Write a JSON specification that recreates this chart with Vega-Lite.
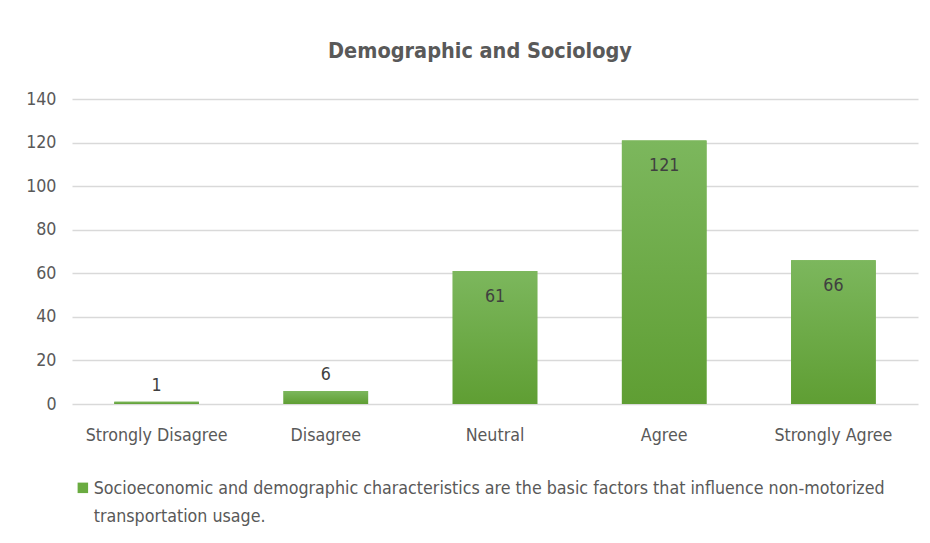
{
  "$schema": "https://vega.github.io/schema/vega-lite/v6.json",
  "width": 846,
  "height": 305,
  "autosize": {"type": "none"},
  "padding": {"left": 72, "top": 99, "right": 12, "bottom": 139},
  "background": "white",
  "title": {
    "text": "Demographic and Sociology",
    "fontSize": 21.5,
    "fontWeight": "bold",
    "color": "#595959",
    "font": "Liberation Sans Narrow, DejaVu Sans Condensed, sans-serif",
    "anchor": "middle",
    "offset": 28,
    "dx": -15
  },
  "data": {
    "values": [
      {"response": "Strongly Disagree", "count": 1, "series": "Socioeconomic and demographic characteristics are the basic factors that influence non-motorized transportation usage."},
      {"response": "Disagree", "count": 6, "series": "Socioeconomic and demographic characteristics are the basic factors that influence non-motorized transportation usage."},
      {"response": "Neutral", "count": 61, "series": "Socioeconomic and demographic characteristics are the basic factors that influence non-motorized transportation usage."},
      {"response": "Agree", "count": 121, "series": "Socioeconomic and demographic characteristics are the basic factors that influence non-motorized transportation usage."},
      {"response": "Strongly Agree", "count": 66, "series": "Socioeconomic and demographic characteristics are the basic factors that influence non-motorized transportation usage."}
    ]
  },
  "encoding": {
    "x": {
      "field": "response",
      "type": "nominal",
      "sort": null,
      "scale": {"paddingInner": 0.5, "paddingOuter": 0.25},
      "axis": {
        "title": null,
        "labelAngle": 0,
        "domain": false,
        "ticks": false,
        "labelPadding": 22,
        "labelFontSize": 17.7,
        "labelColor": "#595959",
        "labelFont": "Liberation Sans Narrow, DejaVu Sans Condensed, sans-serif",
        "labelLimit": 300
      }
    },
    "y": {
      "field": "count",
      "type": "quantitative",
      "scale": {"domain": [0, 140]},
      "axis": {
        "title": null,
        "values": [0, 20, 40, 60, 80, 100, 120, 140],
        "domain": false,
        "ticks": false,
        "labelPadding": 16,
        "labelFontSize": 17.7,
        "labelColor": "#595959",
        "labelFont": "Liberation Sans Narrow, DejaVu Sans Condensed, sans-serif",
        "gridColor": "#d9d9d9",
        "gridWidth": 1.5
      }
    }
  },
  "layer": [
    {
      "mark": {"type": "bar"},
      "encoding": {
        "color": {
          "field": "series",
          "type": "nominal",
          "scale": {"range": ["#6aab40"]},
          "legend": {
            "title": null,
            "orient": "none",
            "legendX": 2,
            "legendY": 380,
            "symbolType": "square",
            "symbolSize": 110,
            "symbolStrokeWidth": 0,
            "labelFontSize": 17.7,
            "labelColor": "#595959",
            "labelFont": "Liberation Sans Narrow, DejaVu Sans Condensed, sans-serif",
            "labelLimit": 900,
            "labelOffset": 2,
            "labelBaseline": "alphabetic",
            "labelExpr": "['Socioeconomic and demographic characteristics are the basic factors that influence non-motorized', 'transportation usage.']",
            "encode": {"labels": {"update": {"dy": {"value": 6}}}}
          }
        }
      }
    },
    {
      "mark": {
        "type": "bar",
        "color": {
          "gradient": "linear",
          "x1": 0, "y1": 0, "x2": 0, "y2": 1,
          "stops": [
            {"offset": 0, "color": "#7cb75d"},
            {"offset": 1, "color": "#5f9e33"}
          ]
        }
      }
    },
    {
      "transform": [{"filter": "datum.count >= 20"}],
      "mark": {
        "type": "text",
        "dy": 26,
        "baseline": "middle",
        "fontSize": 17.7,
        "color": "#404040",
        "font": "Liberation Sans Narrow, DejaVu Sans Condensed, sans-serif"
      },
      "encoding": {"text": {"field": "count", "type": "quantitative"}}
    },
    {
      "transform": [{"filter": "datum.count < 20"}],
      "mark": {
        "type": "text",
        "dy": -16,
        "baseline": "middle",
        "fontSize": 17.7,
        "color": "#404040",
        "font": "Liberation Sans Narrow, DejaVu Sans Condensed, sans-serif"
      },
      "encoding": {"text": {"field": "count", "type": "quantitative"}}
    }
  ],
  "config": {
    "view": {"stroke": null},
    "style": {"guide-label": {"lineHeight": 28}}
  }
}
